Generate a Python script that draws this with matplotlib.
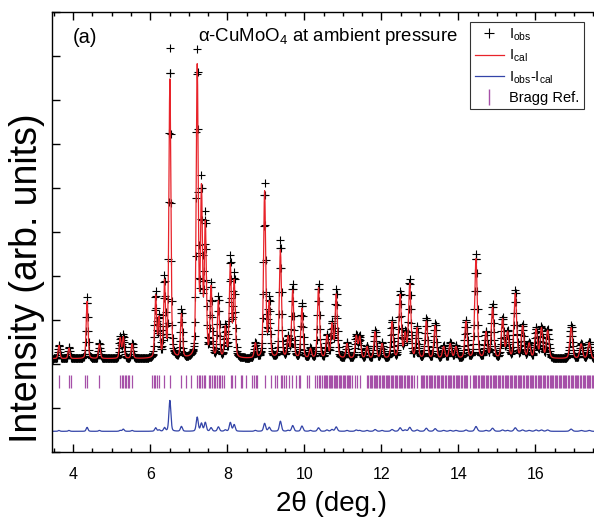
import numpy as np
import matplotlib.pyplot as plt
from matplotlib.lines import Line2D

plt.rcParams['font.family'] = ['Liberation Sans', 'DejaVu Sans']
plt.rcParams['mathtext.fontset'] = 'custom'
plt.rcParams['mathtext.rm'] = 'Liberation Sans'
plt.rcParams['mathtext.it'] = 'Liberation Sans:italic'

# peak list: position (deg), top of I_obs, top of I_cal
peak_pos = [3.63, 3.89, 4.36, 4.68, 5.22, 5.30, 5.53, 6.14, 6.23, 6.37,
            6.51, 6.81, 7.22, 7.33, 7.43, 7.58, 7.77, 7.95, 8.08, 8.18,
            8.73, 8.97, 9.09, 9.38, 9.58, 9.70, 9.94, 10.16, 10.37, 10.59,
            10.72, 10.83, 11.11, 11.35, 11.44, 11.63, 11.84, 12.02, 12.28, 12.49,
            12.62, 12.74, 12.93, 13.17, 13.40, 13.62, 13.79, 13.94, 14.20, 14.46,
            14.72, 14.89, 15.15, 15.28, 15.48, 15.67, 15.84, 16.02, 16.16, 16.32,
            16.93, 17.19, 17.40]
peak_obs = [2.44, 2.38, 3.51, 2.47, 2.60, 2.65, 2.47, 3.60, 3.03, 3.90,
            9.14, 3.21, 9.03, 6.04, 5.30, 3.78, 3.50, 2.83, 4.40, 4.00,
            2.47, 6.08, 3.44, 4.80, 2.60, 3.78, 3.37, 2.35, 3.80, 2.65,
            2.92, 3.66, 2.47, 2.65, 2.62, 2.40, 2.76, 2.47, 2.98, 3.63,
            2.68, 3.89, 2.83, 3.03, 2.92, 2.40, 2.47, 2.40, 2.98, 4.49,
            2.72, 3.33, 3.03, 2.72, 3.66, 2.87, 2.47, 2.80, 2.83, 2.78,
            2.87, 2.47, 2.50]
peak_cal = [2.42, 2.36, 3.42, 2.45, 2.58, 2.60, 2.45, 3.52, 3.00, 3.82,
            8.44, 3.10, 8.71, 5.86, 5.10, 3.70, 3.40, 2.80, 4.20, 3.85,
            2.45, 5.90, 3.35, 4.57, 2.58, 3.65, 3.25, 2.33, 3.72, 2.62,
            2.88, 3.56, 2.45, 2.62, 2.60, 2.38, 2.72, 2.45, 2.94, 3.55,
            2.65, 3.80, 2.80, 2.96, 2.86, 2.38, 2.45, 2.38, 2.95, 4.38,
            2.70, 3.26, 3.00, 2.70, 3.58, 2.84, 2.45, 2.77, 2.80, 2.75,
            2.82, 2.45, 2.48]
background = 2.12
diff_offset = 0.47

# Bragg reflection positions (deg)
bragg_pos = [3.63, 3.89, 3.93, 4.30, 4.36, 4.67, 5.22, 5.26, 5.30, 5.34, 5.37, 5.41,
             5.45, 5.53, 6.05, 6.09, 6.13, 6.17, 6.23, 6.36, 6.51, 6.81, 6.92, 7.05,
             7.22, 7.26, 7.30, 7.35, 7.39, 7.43, 7.52, 7.56, 7.61, 7.65, 7.69, 7.74,
             7.78, 7.82, 7.87, 7.91, 8.09, 8.13, 8.20, 8.35, 8.39, 8.48, 8.65, 8.69,
             8.74, 8.78, 8.97, 9.13, 9.24, 9.30, 9.39, 9.43, 9.48, 9.52, 9.60, 9.69,
             9.78, 9.86, 9.90, 10.08, 10.12, 10.29, 10.33, 10.38, 10.42, 10.47,
             10.50, 10.53, 10.57, 10.60, 10.63, 10.67, 10.70, 10.72, 10.76, 10.79,
             10.83, 10.86, 10.90, 10.93, 10.96, 11.00, 11.03, 11.07, 11.10, 11.13,
             11.17, 11.20, 11.24, 11.31, 11.37, 11.44,
             11.63, 11.66, 11.70, 11.73, 11.77, 11.80, 11.84, 11.87, 11.90, 11.94,
             11.97, 12.01, 12.04, 12.07, 12.11, 12.14, 12.18, 12.21, 12.25, 12.28,
             12.31, 12.35, 12.38, 12.42, 12.45, 12.49, 12.52, 12.55, 12.59, 12.62,
             12.66, 12.69, 12.73, 12.76, 12.80, 12.84, 12.93,
             13.02, 13.05, 13.09, 13.12, 13.16, 13.19, 13.23, 13.26, 13.30, 13.33,
             13.37, 13.40, 13.44, 13.47, 13.51, 13.54, 13.58, 13.61, 13.65, 13.68,
             13.72, 13.75, 13.79, 13.82, 13.86, 13.89, 13.93, 13.96, 14.00, 14.03,
             14.07, 14.10, 14.14, 14.17, 14.20, 14.23, 14.30,
             14.37, 14.40, 14.44, 14.47, 14.51, 14.54, 14.58, 14.61, 14.64, 14.68,
             14.71, 14.75, 14.78, 14.82, 14.85, 14.89, 14.92, 14.95, 14.99, 15.02,
             15.06, 15.09, 15.13, 15.16, 15.20, 15.23, 15.26, 15.30, 15.33, 15.37,
             15.40, 15.44, 15.47, 15.51, 15.54, 15.57, 15.61, 15.64, 15.68, 15.71,
             15.75, 15.78, 15.82, 15.85, 15.88, 15.92, 15.95, 15.99, 16.02, 16.06,
             16.09, 16.13, 16.16, 16.19, 16.23, 16.26, 16.30, 16.33, 16.37, 16.40,
             16.44, 16.47, 16.50, 16.54, 16.57, 16.61, 16.64, 16.68, 16.71, 16.75,
             16.78, 16.81, 16.85, 16.88, 16.92, 16.95, 16.99, 17.02, 17.06, 17.09,
             17.12, 17.16, 17.19, 17.23, 17.26, 17.30, 17.33, 17.37, 17.40, 17.43,
             17.47, 17.50, 17.54, 17.57]

two_theta = np.arange(3.44, 17.96, 0.01)


def profile(x, pos, fwhm=0.06, eta=0.3):
	# pseudo-Voigt with unit height
	hw = fwhm / 2
	lor = 1 / (1 + ((x - pos) / hw) ** 2)
	gau = np.exp(-np.log(2) * ((x - pos) / hw) ** 2)
	return eta * lor + (1 - eta) * gau


def pattern(tops):
	y = np.full_like(two_theta, background)
	for p, t in zip(peak_pos, tops):
		y += (t - background) * profile(two_theta, p, 0.055 + 0.002 * (p - 4))
	return y


i_obs = pattern(peak_obs)
i_cal = pattern(peak_cal)
i_diff = i_obs - i_cal + diff_offset

fig = plt.figure(figsize=(5.94, 5.18), dpi=100)
ax = fig.add_axes([0.087, 0.1274, 0.9406, 0.8494])

ax.plot(two_theta, i_obs, linestyle='none', marker='+', color='black',
        markersize=6, markeredgewidth=0.8)
ax.plot(two_theta, i_cal, color='#e8232a', linewidth=0.9)
ax.plot(two_theta, i_diff, color='#3344a8', linewidth=0.9)
ax.vlines(bragg_pos, 1.45, 1.74, color='#a650a8', linewidth=0.9)

ax.set_xlim(3.44, 17.95)
ax.set_ylim(0, 10)
ax.set_xticks(np.arange(4, 18, 2))
ax.set_xticks(np.arange(3.5, 18, 0.5), minor=True)
ax.set_yticks(np.arange(0, 11, 1))
ax.set_yticklabels([])
ax.tick_params(axis='both', which='both', direction='in', top=True, right=True, width=1.0)
ax.tick_params(axis='both', which='major', length=6)
ax.tick_params(axis='x', which='minor', length=3)
ax.tick_params(axis='x', labelsize=11.5, pad=11)
for s in ax.spines.values():
	s.set_linewidth(1.0)

ax.set_xlabel('2θ (deg.)', fontsize=20, labelpad=6)
ax.set_ylabel('Intensity (arb. units)', fontsize=27)
ax.yaxis.set_label_coords(-0.012, 0.396)

ax.text(0.037, 0.93, '(a)', transform=ax.transAxes, fontsize=14.5, va='baseline')
ax.text(0.495, 0.933, 'α-CuMoO$_4$ at ambient pressure', transform=ax.transAxes,
        fontsize=13.4, va='baseline', ha='center')

handles = [
	Line2D([], [], linestyle='none', marker='+', color='black', markersize=7, markeredgewidth=0.8),
	Line2D([], [], color='#e8232a', linewidth=0.9),
	Line2D([], [], color='#3344a8', linewidth=0.9),
	Line2D([], [], linestyle='none', marker='|', color='#a650a8', markersize=11, markeredgewidth=1.0),
]
labels = ['I$_{\\rm obs}$', 'I$_{\\rm cal}$', 'I$_{\\rm obs}$-I$_{\\rm cal}$', 'Bragg Ref.']
leg = ax.legend(handles, labels, loc='upper right', bbox_to_anchor=(0.952, 0.977),
                fontsize=10.5, frameon=True, fancybox=False, borderpad=0.3,
                labelspacing=0.35, handlelength=2.0, handletextpad=0.35, borderaxespad=0)
leg.get_frame().set_edgecolor('black')
leg.get_frame().set_linewidth(0.8)

plt.savefig('out.png', dpi=100)
